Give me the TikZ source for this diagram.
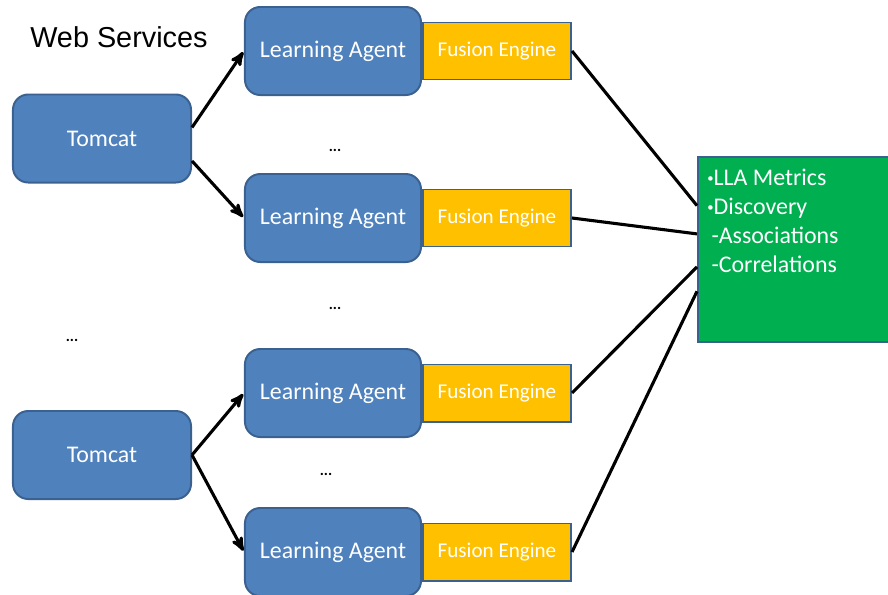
\documentclass[tikz,border=0pt]{standalone}
\usepackage{fontspec}
\setmainfont{Carlito}
\newfontfamily\arialfont{Liberation Sans}
\usetikzlibrary{positioning,calc,arrows}
\definecolor{agentblue}{HTML}{4F81BD}
\definecolor{agentedge}{HTML}{3A6190}
\definecolor{fusionyellow}{HTML}{FFC000}
\definecolor{metricsgreen}{HTML}{00B050}
\newcommand{\smallbullet}{{\fontsize{9}{9}\selectfont\raisebox{2.5pt}{\textbullet}}}

\begin{document}
\begin{tikzpicture}[x=0.025cm,y=-0.025cm,>=stealth',shorten >=1pt,
    box node/.style={rectangle,rounded corners=0.38cm,draw=agentedge,line width=1.4pt,
      fill=agentblue,text=white,font=\fontsize{17}{20}\selectfont,inner sep=0pt,
      minimum height=2.2cm},
    fusion node/.style={rectangle,draw=agentedge,line width=1.4pt,fill=fusionyellow,
      text=white,font=\fontsize{15}{18}\selectfont,inner sep=0pt,
      minimum width=3.7cm,minimum height=1.425cm},
    dots node/.style={font=\bfseries\fontsize{11}{12}\selectfont,inner sep=0pt},
    link/.style={line width=2.2pt}]
    \clip (0,0) rectangle (888,594);
    % nodes
      \node[anchor=west,inner sep=0pt,font=\arialfont\fontsize{20.5}{24}\selectfont] (ws) at (30,37) {Web Services};
      \node[box node,minimum width=4.45cm] (t1) at (102,138.5) {Tomcat};
      \node[box node,minimum width=4.45cm] (t2) at (102,455) {Tomcat};
      \node[box node,minimum width=4.4cm] (la1) at (333,51) {Learning Agent};
      \node[box node,minimum width=4.4cm] (la2) at (333,218) {Learning Agent};
      \node[box node,minimum width=4.4cm] (la3) at (333,393) {Learning Agent};
      \node[box node,minimum width=4.4cm] (la4) at (333,552) {Learning Agent};
      \node[fusion node] (f1) [right = 0pt of la1] {Fusion Engine};
      \node[fusion node] (f2) [right = 0pt of la2] {Fusion Engine};
      \node[fusion node] (f3) [right = 0pt of la3] {Fusion Engine};
      \node[fusion node] (f4) [right = 0pt of la4] {Fusion Engine};
      \node[rectangle,draw=agentedge,line width=1.4pt,fill=metricsgreen,
        minimum width=4.875cm,minimum height=4.625cm] (g) at (795.5,249.5) {};
      \node[anchor=north west,align=left,text=white,inner sep=0pt,
        font=\fontsize{17}{20.5}\selectfont] (gtext) at (707,169)
        {\smallbullet LLA Metrics\\ \smallbullet Discovery\\ \hspace{3pt}-Associations\\ \hspace{3pt}-Correlations};
      \node[dots node] (d1) at (335,150) {...};
      \node[dots node] (d2) at (335,308) {...};
      \node[dots node] (d3) at (72,340) {...};
      \node[dots node] (d4) at (326,474) {...};
      %edges
      \path[link,->]
        (t1.7) edge (la1.west)
        (t1.-14) edge (la2.west)
        (t2.east) edge (la3.west)
        (t2.east) edge (la4.west);
      \path[link,shorten >=0pt]
        (f1.east) edge (g.156.4)
        (f2.east) edge (g.171.5)
        (f3.east) edge (g.190.2)
        (f4.east) edge (g.203.6);
    \end{tikzpicture}
\end{document}
